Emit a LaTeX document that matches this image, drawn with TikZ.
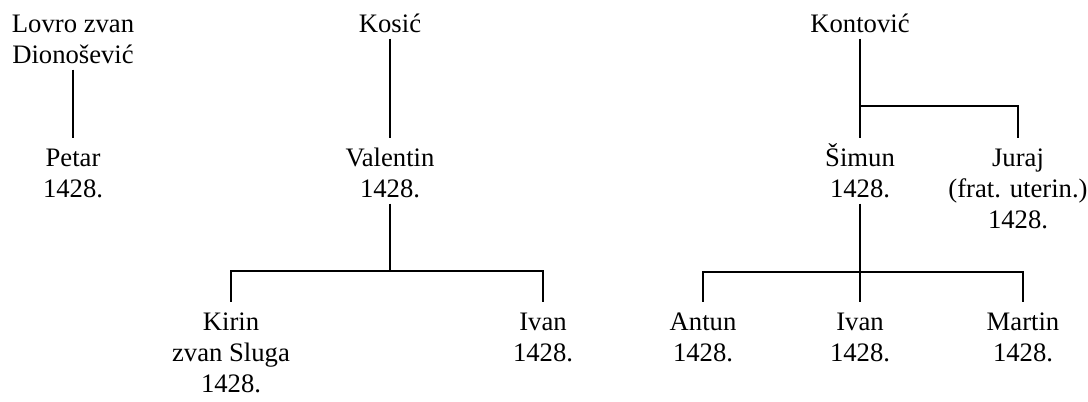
\documentclass[tikz,border=0pt]{standalone}
\usepackage{fontspec}
\setmainfont{Liberation Serif}
\usepackage{tikz}
\usetikzlibrary{positioning}
\newcommand{\tp}{\rule{0pt}{21pt}}

\begin{document}
\begin{tikzpicture}[x=0.75pt, y=-0.75pt,
  person/.style={align=center, anchor=north, inner xsep=0pt, inner ysep=0pt,
    font=\fontsize{20}{23.25}\selectfont,
    execute at end node={\rule[-4.5pt]{0pt}{4.5pt}}},
  branch/.style={line width=1.3pt}]
  \useasboundingbox (0,0) rectangle (1088,401);

  % ===== Lovro zvan Dionošević =====
  \node[person] (lovro) at (73,4) {\tp Lovro zvan\\Dionošević};
  \node[person] (petar) at (73,138) {\tp Petar\\1428.};
  \draw[branch] (lovro.south) -- (petar.north);

  % ===== Kosić =====
  \node[person] (kosic) at (390,4) {\tp Kosić};
  \node[person] (valentin) at (390,138) {\tp Valentin\\1428.};
  \draw[branch] (kosic.south) -- (valentin.north);

  % djeca Valentina
  \node[person] (kirin) at (231,302) {\tp Kirin\\zvan Sluga\\1428.};
  \node[person] (ivanv) at (543,302) {\tp Ivan\\1428.};
  \coordinate (vbar) at (390,271);
  \draw[branch] (valentin.south) -- (vbar);
  \draw[branch] (vbar) -| (kirin.north);
  \draw[branch] (vbar) -| (ivanv.north);

  % ===== Kontović =====
  \node[person] (kontovic) at (860,4) {\tp Kontović};
  \node[person] (simun) at (860,138) {\tp Šimun\\1428.};
  \node[person] (juraj) at (1018,138) {\tp Juraj\\(frat. uterin.)\\1428.};
  \coordinate (kbar) at (860,106);
  \draw[branch] (kontovic.south) -- (simun.north);
  \draw[branch] (kbar) -| (juraj.north);

  % djeca Šimuna
  \node[person] (antun) at (703,302) {\tp Antun\\1428.};
  \node[person] (ivans) at (860,302) {\tp Ivan\\1428.};
  \node[person] (martin) at (1023,302) {\tp Martin\\1428.};
  \coordinate (sbar) at (860,272);
  \draw[branch] (simun.south) -- (ivans.north);
  \draw[branch] (sbar) -| (antun.north);
  \draw[branch] (sbar) -| (martin.north);
\end{tikzpicture}
\end{document}
